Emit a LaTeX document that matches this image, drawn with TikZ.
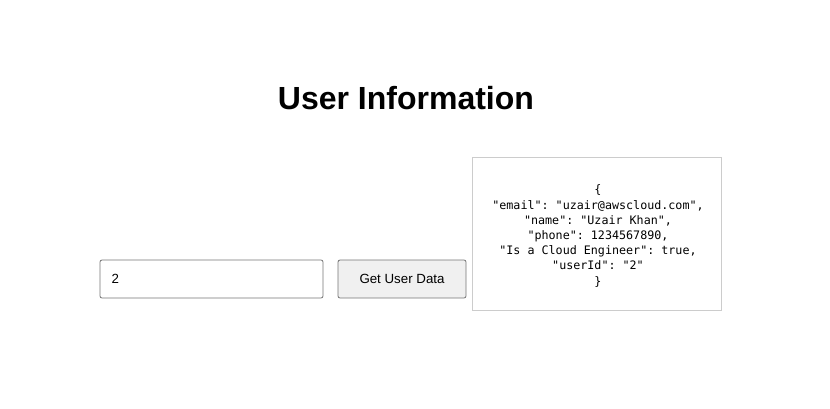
\documentclass[tikz,border=0pt]{standalone}
\usepackage{fontspec}
\setmainfont{Liberation Sans}
\setmonofont{DejaVu Sans Mono}
\begin{document}
\begin{tikzpicture}[x=1pt,y=-1pt]

  % Styles
  \tikzset{
    fieldbox/.style={draw=black!54,line width=0.8pt,rounded corners=2pt,fill=white},
    buttonbox/.style={draw=black!54,line width=0.8pt,rounded corners=2pt,fill=black!6},
    jsonbox/.style={draw=black!20,line width=0.8pt}
  }

  \useasboundingbox[fill=white] (0,0) rectangle (830,408);

  % Title
  \node[font=\fontsize{32}{38}\selectfont\bfseries] (title) at (406,98) {User Information};

  % Input field and button
  \draw[fieldbox] (100,260) rectangle (323,298);
  \node[anchor=west,font=\fontsize{13.3}{16}\selectfont] (userid) at (108,279) {2};
  \draw[buttonbox] (338,260) rectangle (466,298);
  \node[font=\fontsize{13.3}{16}\selectfont] (getbtn) at (402,279) {Get User Data};

  % JSON output
  \draw[jsonbox] (472,157) rectangle (721,310);
  \node[align=center,font=\ttfamily\fontsize{11.7}{15.2}\selectfont] (json) at (598,236)
    {\{\\
     "email": "uzair@awscloud.com",\\
     "name": "Uzair Khan",\\
     "phone": 1234567890,\\
     "Is a Cloud Engineer": true,\\
     "userId": "2"\\
     \}};

\end{tikzpicture}
\end{document}
